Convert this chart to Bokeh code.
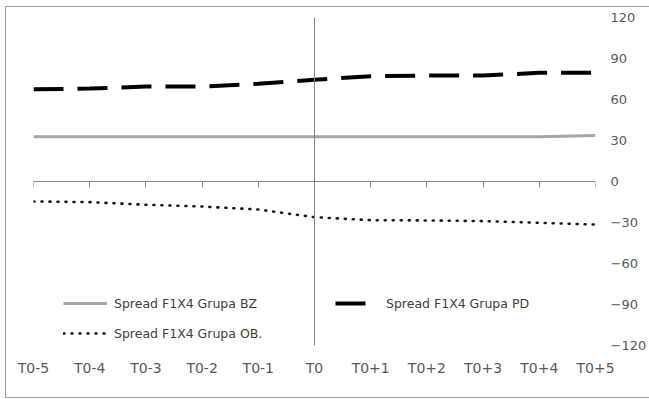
from bokeh.plotting import figure
from bokeh.models import (Range1d, LinearAxis, FixedTicker, Span, Legend, LegendItem,
                          ColumnDataSource)
from bokeh.embed import file_html
from bokeh.resources import INLINE

categories = ["T0-5", "T0-4", "T0-3", "T0-2", "T0-1", "T0", "T0+1", "T0+2", "T0+3", "T0+4", "T0+5"]
bz = [32.7, 32.7, 32.7, 32.7, 32.7, 32.7, 32.7, 32.7, 32.7, 32.7, 33.7]
pd_vals = [67.5, 68.0, 69.5, 69.5, 71.5, 74.5, 77.0, 77.5, 77.5, 79.5, 79.5]
ob = [-14.6, -15.1, -17.0, -18.3, -20.5, -26.1, -28.3, -28.5, -29.0, -30.2, -31.5]
y_ticks = [-120, -90, -60, -30, 0, 30, 60, 90, 120]
names = ["Spread F1X4 Grupa BZ", "Spread F1X4 Grupa PD", "Spread F1X4 Grupa OB."]

xs = list(range(len(categories)))
src = ColumnDataSource(dict(x=xs, bz=bz, pd=pd_vals, ob=ob))

FONT = "DejaVu Sans"
AX_COL = "#595959"
LINE_COL = "#868686"

p = figure(frame_width=562, frame_height=328, output_backend="svg", toolbar_location=None,
           x_range=Range1d(0, len(categories) - 1), y_range=Range1d(-120, 120),
           x_axis_location=None, y_axis_location=None,
           min_border_left=27, min_border_right=53, min_border_top=10, min_border_bottom=52)
p.margin = (6, 0, 0, 5)
p.styles = {"border": "1px solid #a0a0a0"}
p.outline_line_color = None
p.xgrid.visible = False
p.ygrid.visible = False
p.background_fill_color = "white"
p.border_fill_color = "white"

# vertical line at T0
p.add_layout(Span(location=categories.index("T0"), dimension="height",
                  line_color=LINE_COL, line_width=1))

r_bz = p.line("x", "bz", source=src, line_color="#a6a6a6", line_width=3)
r_pd = p.line("x", "pd", source=src, line_color="#000000", line_width=4,
              line_dash="30 14")
r_ob = p.line("x", "ob", source=src, line_color="#1a1a1a", line_width=2.6,
              line_dash="1 7", line_cap="round")

# category axis labels at bottom
xa = LinearAxis(ticker=FixedTicker(ticks=xs),
                major_label_overrides={i: c for i, c in enumerate(categories)})
xa.axis_line_color = None
xa.major_tick_line_color = None
xa.minor_tick_line_color = None
xa.major_tick_out = 0
xa.major_label_standoff = 14
xa.major_label_text_font = FONT
xa.major_label_text_font_size = "14px"
xa.major_label_text_color = AX_COL
p.add_layout(xa, "below")

# zero-crossing axis line with ticks
za = LinearAxis(ticker=FixedTicker(ticks=xs), fixed_location=0,
                major_label_overrides={i: "" for i in xs})
za.axis_line_color = LINE_COL
za.major_tick_line_color = LINE_COL
za.minor_tick_line_color = None
za.major_tick_out = 6
za.major_tick_in = 0
za.major_label_text_font_size = "0px"
p.add_layout(za, "below")

# value axis on the right
ya = LinearAxis(ticker=FixedTicker(ticks=y_ticks))
ya.axis_line_color = None
ya.major_tick_line_color = None
ya.minor_tick_line_color = None
ya.major_tick_out = 0
ya.major_label_standoff = 15
ya.major_label_orientation = 0.0
ya.major_label_text_align = "left"
ya.major_label_text_font = FONT
ya.major_label_text_font_size = "13px"
ya.major_label_text_color = AX_COL
p.add_layout(ya, "right")

legend = Legend(items=[LegendItem(label=names[0], renderers=[r_bz]),
                       LegendItem(label=names[1], renderers=[r_pd]),
                       LegendItem(label=names[2], renderers=[r_ob])],
                location=(30, 2), orientation="horizontal", ncols=2)
legend.padding = 0
legend.margin = 0
legend.spacing = 10
legend.glyph_width = 44
legend.glyph_height = 20
legend.label_height = 20
legend.label_width = 211
legend.label_standoff = 7
legend.label_text_font = FONT
legend.label_text_font_size = "12.5px"
legend.label_text_color = "#404040"
legend.border_line_alpha = 0
legend.background_fill_alpha = 0
p.add_layout(legend, "center")

open("out.html", "w").write(file_html(p, INLINE))
